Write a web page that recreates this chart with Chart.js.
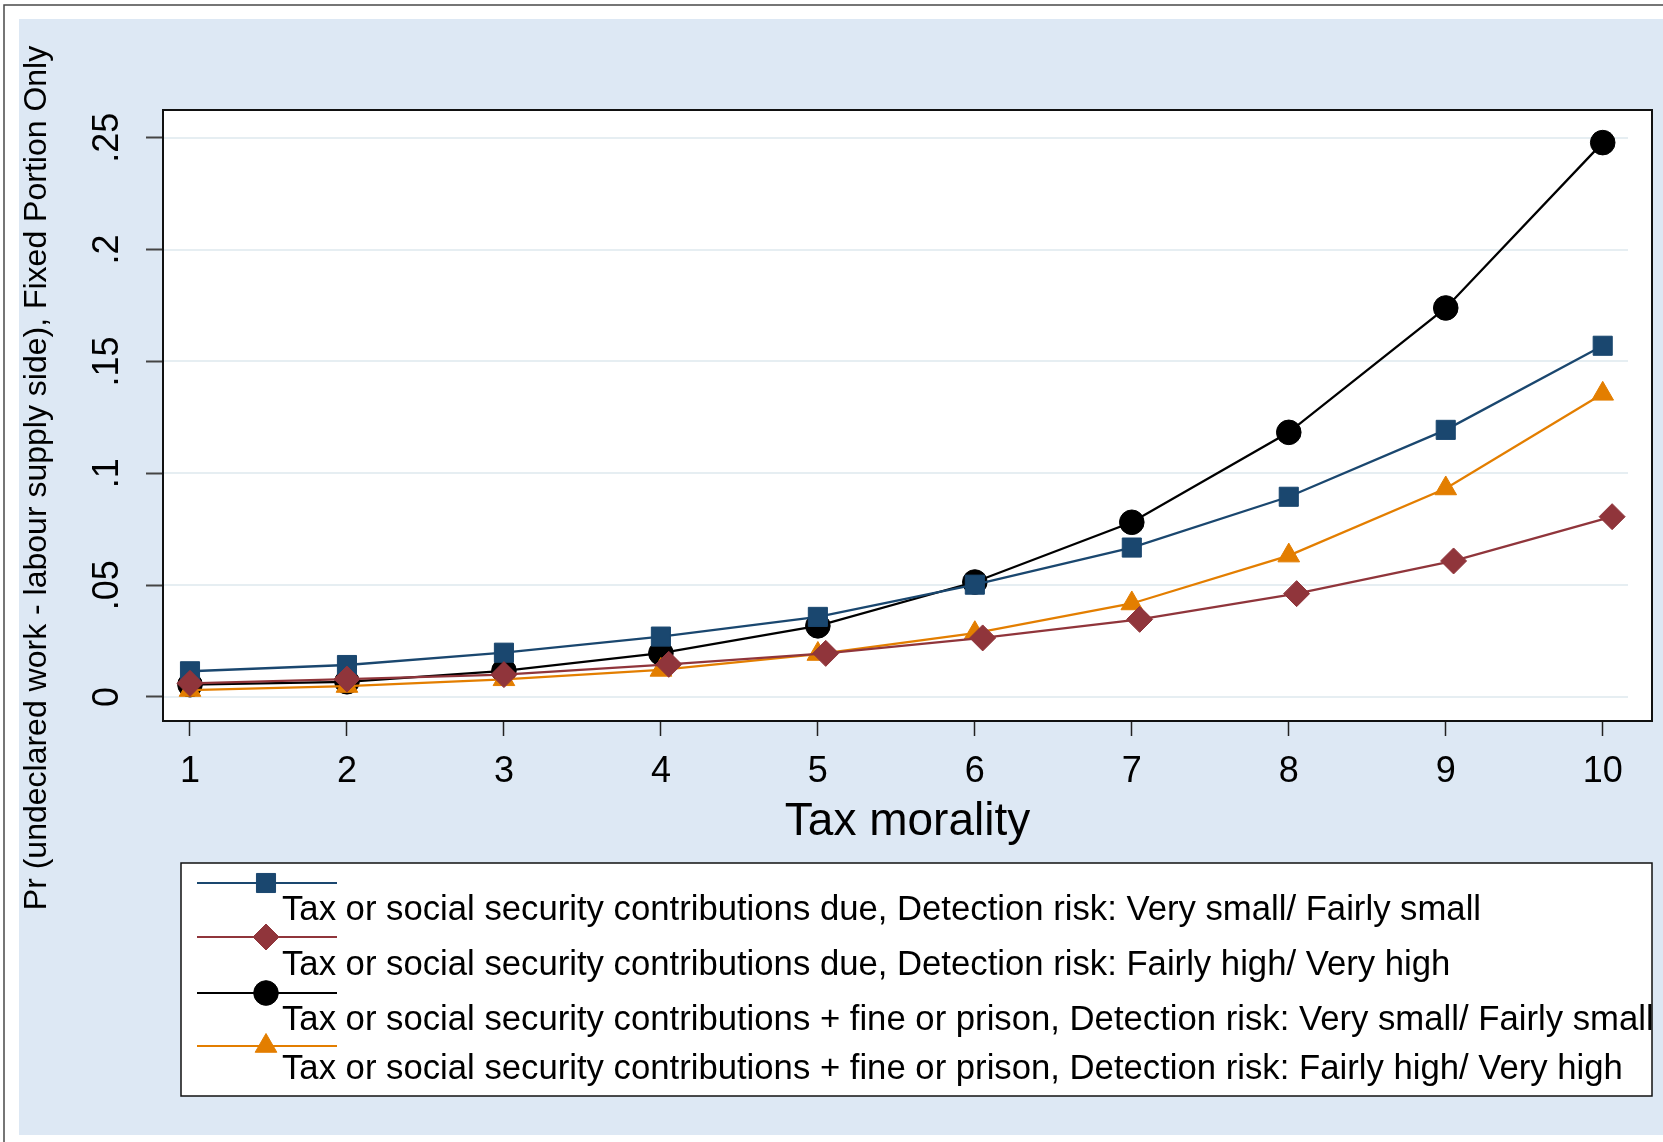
<!DOCTYPE html>
<html>
<head>
<meta charset="utf-8">
<script src="https://cdn.jsdelivr.net/npm/chart.js@4.4.1/dist/chart.umd.min.js"></script>
<style>
html,body{margin:0;padding:0;background:#ffffff;}
canvas{display:block;}
</style>
</head>
<body>
<canvas id="c" width="1663" height="1142" style="width:1663px;height:1142px"></canvas>
<script>
// ---------- data ----------
const categories = [1, 2, 3, 4, 5, 6, 7, 8, 9, 10];
const xTicks = [1, 2, 3, 4, 5, 6, 7, 8, 9, 10];
const yTicks = [0, 0.05, 0.1, 0.15, 0.2, 0.25];
const yTickLabels = ['0', '.05', '.1', '.15', '.2', '.25'];
const xTitle = 'Tax morality';
const yTitle = 'Pr (undeclared work - labour supply side), Fixed Portion Only';
const seriesNames = [
  'Tax or social security contributions due, Detection risk: Very small/ Fairly small',
  'Tax or social security contributions due, Detection risk: Fairly high/ Very high',
  'Tax or social security contributions + fine or prison, Detection risk: Very small/ Fairly small',
  'Tax or social security contributions + fine or prison, Detection risk: Fairly high/ Very high'
];
// x positions of the diamond series as plotted (slightly shifted right from 4 on)
const xDueHighRisk = [1, 2, 3, 4.05, 5.05, 6.05, 7.05, 8.05, 9.05, 10.06];
const dueLowRisk   = [0.0115, 0.0143, 0.0198, 0.0270, 0.0358, 0.0502, 0.0668, 0.0895, 0.1194, 0.1570];
const dueHighRisk  = [0.0061, 0.0080, 0.0100, 0.0146, 0.0195, 0.0264, 0.0347, 0.0462, 0.0608, 0.0806];
const fineLowRisk  = [0.0055, 0.0068, 0.0117, 0.0196, 0.0318, 0.0514, 0.0781, 0.1183, 0.1739, 0.2478];
const fineHighRisk = [0.0031, 0.0049, 0.0079, 0.0121, 0.0192, 0.0285, 0.0418, 0.0632, 0.0932, 0.1355];

// ---------- styles ----------
const FONT = "'Liberation Sans', Arial, Helvetica, sans-serif";
const C_BLUE = '#1a476f', C_RED = '#90353b', C_BLACK = '#000000', C_ORANGE = '#e37e00';
const BG = '#dde8f4';
const GRID = '#e6eef2';

function pts(xs, ys) { return xs.map((x, i) => ({ x: x, y: ys[i] })); }

function ds(label, data, color, style, radius, order) {
  return {
    label, data, order,
    borderColor: color, backgroundColor: color,
    pointBackgroundColor: color, pointBorderColor: color,
    borderWidth: 2.3, pointBorderWidth: 1,
    pointStyle: style, pointRadius: radius, pointHoverRadius: radius,
    tension: 0, showLine: true, fill: false
  };
}

// drawing order as in the reference: diamonds on top, then triangles, squares, circles
const datasets = [
  ds(seriesNames[0], pts(categories, dueLowRisk), C_BLUE, 'rect', 13.5, 2),
  ds(seriesNames[1], pts(xDueHighRisk, dueHighRisk), C_RED, 'rectRot', 13, 0),
  ds(seriesNames[2], pts(categories, fineLowRisk), C_BLACK, 'circle', 12.3, 3),
  ds(seriesNames[3], pts(categories, fineHighRisk), C_ORANGE, 'triangle', 12.5, 1)
];

const legendLayout = {
  box: { left: 181, top: 863, right: 1652, bottom: 1096 },
  lineX0: 197, lineX1: 337, markerX: 266, textX: 282,
  lineY: [883, 937, 993, 1046],
  textY: [920, 975, 1030, 1079]
};

const stataPlugin = {
  id: 'stataLook',
  beforeDraw(chart) {
    const { ctx, width, height, chartArea: a } = chart;
    ctx.save();
    ctx.fillStyle = '#ffffff';
    ctx.fillRect(0, 0, width, height);
    ctx.fillStyle = BG;
    ctx.fillRect(19, 19, width - 19, 1135 - 19);
    ctx.strokeStyle = '#4a4a4a';
    ctx.lineWidth = 1.5;
    ctx.beginPath();
    ctx.moveTo(4, height); ctx.lineTo(4, 5); ctx.lineTo(width, 5);
    ctx.stroke();
    ctx.fillStyle = '#ffffff';
    ctx.fillRect(a.left, a.top, a.right - a.left, a.bottom - a.top);
    // y axis title
    ctx.translate(37, 478);
    ctx.rotate(-Math.PI / 2);
    ctx.fillStyle = '#000';
    ctx.font = '32px ' + FONT;
    ctx.textAlign = 'center';
    ctx.textBaseline = 'middle';
    ctx.fillText(yTitle, 0, 0);
    ctx.restore();
  },
  beforeDatasetsDraw(chart) {
    const { ctx, chartArea: a, scales } = chart;
    ctx.save();
    ctx.strokeStyle = GRID;
    ctx.lineWidth = 2;
    yTicks.forEach(v => {
      const y = Math.round(scales.y.getPixelForValue(v));
      ctx.beginPath();
      ctx.moveTo(a.left, y);
      ctx.lineTo(a.right - 24, y);
      ctx.stroke();
    });
    ctx.strokeStyle = '#111';
    ctx.lineWidth = 2;
    ctx.strokeRect(a.left, a.top, a.right - a.left, a.bottom - a.top);
    ctx.restore();
  },
  afterDraw(chart) {
    const { ctx } = chart;
    const L = legendLayout;
    ctx.save();
    ctx.fillStyle = '#ffffff';
    ctx.fillRect(L.box.left, L.box.top, L.box.right - L.box.left, L.box.bottom - L.box.top);
    ctx.strokeStyle = '#111';
    ctx.lineWidth = 1.5;
    ctx.strokeRect(L.box.left, L.box.top, L.box.right - L.box.left, L.box.bottom - L.box.top);
    chart.data.datasets.forEach((d, i) => {
      const y = L.lineY[i];
      ctx.strokeStyle = d.borderColor;
      ctx.lineWidth = 2;
      ctx.beginPath();
      ctx.moveTo(L.lineX0, y); ctx.lineTo(L.lineX1, y);
      ctx.stroke();
      ctx.fillStyle = d.pointBackgroundColor;
      ctx.strokeStyle = d.pointBorderColor;
      ctx.lineWidth = d.pointBorderWidth;
      if (Chart.helpers && Chart.helpers.drawPoint) {
        Chart.helpers.drawPoint(ctx, { pointStyle: d.pointStyle, rotation: 0, radius: d.pointRadius, borderWidth: d.pointBorderWidth }, L.markerX, y);
      } else {
        ctx.beginPath(); ctx.arc(L.markerX, y, d.pointRadius, 0, Math.PI * 2); ctx.fill();
      }
      ctx.fillStyle = '#000';
      ctx.font = '34.7px ' + FONT;
      ctx.textAlign = 'left';
      ctx.textBaseline = 'alphabetic';
      ctx.fillText(d.label, L.textX, L.textY[i]);
    });
    ctx.restore();
  }
};

Chart.defaults.font.family = FONT;
Chart.defaults.color = '#000';

new Chart(document.getElementById('c'), {
  type: 'line',
  data: { datasets },
  plugins: [stataPlugin],
  options: {
    responsive: false,
    animation: false,
    events: [],
    devicePixelRatio: 1,
    layout: { autoPadding: false, padding: { left: 0, top: 110, right: 11, bottom: 292.4 } },
    plugins: { legend: { display: false }, tooltip: { enabled: false }, title: { display: false } },
    scales: {
      x: {
        type: 'linear',
        min: 0.828, max: 10.314,
        afterBuildTicks: s => { s.ticks = xTicks.map(v => ({ value: v })); },
        afterFit: s => { s.height = 128.6; s.paddingLeft = 0; s.paddingRight = 0; },
        border: { display: false },
        grid: { display: true, drawOnChartArea: false, drawTicks: true, tickLength: 15, tickColor: '#222', tickWidth: 1.5, color: GRID },
        ticks: { autoSkip: false, maxRotation: 0, minRotation: 0, padding: 14, font: { size: 36, lineHeight: 1.2 }, color: '#000',
                 callback: v => String(v) },
        title: { display: true, text: xTitle, font: { size: 46, lineHeight: 1.2 }, color: '#000', padding: { top: 0, bottom: 0 } }
      },
      y: {
        type: 'linear',
        min: -0.01073, max: 0.26238,
        afterBuildTicks: s => { s.ticks = yTicks.map(v => ({ value: v })); },
        afterFit: s => { s.width = 163; s.paddingTop = 0; s.paddingBottom = 0; },
        border: { display: false },
        grid: { display: true, drawOnChartArea: false, drawTicks: true, tickLength: 17, tickColor: '#444', tickWidth: 2, color: GRID },
        ticks: { minRotation: 90, maxRotation: 90, crossAlign: 'center', padding: 13, font: { size: 36, lineHeight: 1.2 }, color: '#000',
                 callback: v => { const i = yTicks.findIndex(t => Math.abs(t - v) < 1e-9); return i >= 0 ? yTickLabels[i] : ''; } },
        title: { display: false }
      }
    }
  }
});
</script>
</body>
</html>
